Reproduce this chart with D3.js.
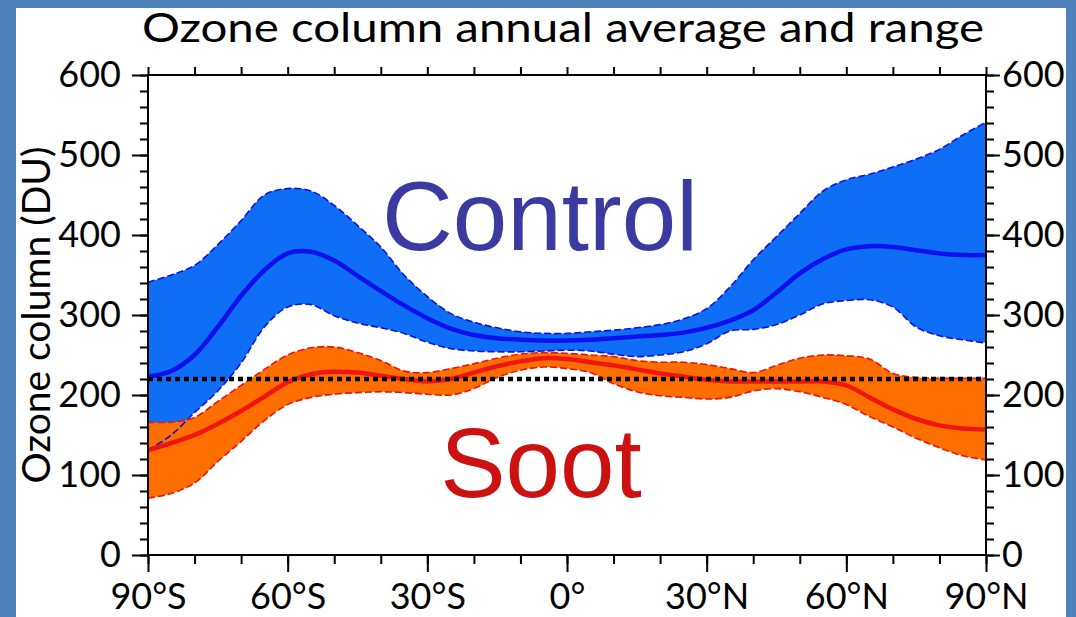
<!DOCTYPE html>
<html>
<head>
<meta charset="utf-8">
<script src="https://cdn.jsdelivr.net/npm/d3@7"></script>
<style>
  body { margin: 0; background: #4f81bd; }
  text { font-family: Lato, "Open Sans", sans-serif; }
</style>
</head>
<body>
<div id="chart"></div>
<script>
// latitude grid (deg, south negative)
const lats = [-90,-85,-80,-75,-70,-65,-60,-55,-50,-45,-40,-35,-30,-25,-20,-15,-10,-5,0,
              5,10,15,20,25,30,35,40,45,50,55,60,65,70,75,80,85,90];

// control run: annual mean, max and min (DU)
const ctlMean = [223,230,250,285,324,356,377,379,368,349,330,312,296,283,275,271,269,268,268,
                 269,271,273,275,278,284,293,306,328,352,370,382,386,385,381,377,375,375];
const ctlMax  = [341,350,362,388,418,450,458,455,437,412,385,350,323,302,291,284,279,277,277,
                 279,281,284,288,295,308,335,369,398,427,455,469,476,485,495,507,525,541];
const ctlMin  = [131,150,178,205,240,285,310,313,299,290,284,277,266,258,255,254,254,255,256,
                 255,251,248,250,254,264,280,282,288,300,314,318,319,310,285,274,269,265];

// soot run
const sootMean = [131,140,150,164,180,198,216,226,229,228,224,220,217,220,228,236,242,246,245,
                  241,237,232,227,223,219,217,217,217,217,217,212,197,182,170,162,158,157];
const sootMax  = [166,166,172,192,212,232,250,259,260,253,243,230,228,233,239,246,251,253,252,
                  250,248,243,241,241,238,233,228,237,246,250,249,245,227,222,221,221,221];
const sootMin  = [71,77,90,117,142,168,188,197,201,203,204,203,201,200,208,222,231,235,233,
                  228,214,204,199,197,195,197,205,208,204,197,188,173,160,146,134,124,119];

const refLevel = 220;

const yTicks = [0,100,200,300,400,500,600];
const yMinor = [0,20,40,60,80,100,120,140,160,180,200,220,240,260,280,300,320,340,360,380,400,420,440,460,480,500,520,540,560,580,600];
const xTicks = [-90,-60,-30,0,30,60,90];
const xTickLabels = ["90°S","60°S","30°S","0°","30°N","60°N","90°N"];
const xMinor = [-90,-80,-70,-60,-50,-40,-30,-20,-10,0,10,20,30,40,50,60,70,80,90];

const width = 1076, height = 617;
const plot = { left: 148, right: 986, top: 75, bottom: 555 };

const svg = d3.select("#chart").append("svg")
  .attr("width", width).attr("height", height);

svg.append("rect").attr("width", width).attr("height", height).attr("fill", "#4f81bd");
svg.append("rect").attr("x", 16).attr("y", 8).attr("width", 1050).attr("height", height - 8).attr("fill", "#fff");

const x = d3.scaleLinear().domain([-90, 90]).range([plot.left, plot.right]);
const y = d3.scaleLinear().domain([0, 600]).range([plot.bottom, plot.top]);

const ctl = lats.map((d, i) => ({ lat: d, mean: ctlMean[i], max: ctlMax[i], min: ctlMin[i] }));
const soot = lats.map((d, i) => ({ lat: d, mean: sootMean[i], max: sootMax[i], min: sootMin[i] }));

const curve = d3.curveCatmullRom.alpha(0.5);
const area = d3.area().x(d => x(d.lat)).y0(d => y(d.min)).y1(d => y(d.max)).curve(curve);
const lineOf = key => d3.line().x(d => x(d.lat)).y(d => y(d[key])).curve(curve);

const g = svg.append("g");

// range fills
g.append("path").datum(ctl).attr("d", area).attr("fill", "#0e6ef5");
g.append("path").datum(soot).attr("d", area).attr("fill", "#ff6f00");

// dashed range edges + means
["max", "min"].forEach(k => {
  g.append("path").datum(ctl).attr("d", lineOf(k))
    .attr("fill", "none").attr("stroke", "#1010e0").attr("stroke-width", 1.6).attr("stroke-dasharray", "7,3");
});
g.append("path").datum(ctl).attr("d", lineOf("mean"))
  .attr("fill", "none").attr("stroke", "#1010ee").attr("stroke-width", 4.5);

["max", "min"].forEach(k => {
  g.append("path").datum(soot).attr("d", lineOf(k))
    .attr("fill", "none").attr("stroke", "#ee1111").attr("stroke-width", 1.6).attr("stroke-dasharray", "7,3");
});
g.append("path").datum(soot).attr("d", lineOf("mean"))
  .attr("fill", "none").attr("stroke", "#f01414").attr("stroke-width", 4.5);

// dotted reference
g.append("line")
  .attr("x1", x(-90)).attr("x2", x(90)).attr("y1", y(refLevel)).attr("y2", y(refLevel))
  .attr("stroke", "#000").attr("stroke-width", 4.5).attr("stroke-dasharray", "5,4");

// frame
svg.append("rect")
  .attr("x", plot.left).attr("y", plot.top)
  .attr("width", plot.right - plot.left).attr("height", plot.bottom - plot.top)
  .attr("fill", "none").attr("stroke", "#000").attr("stroke-width", 2);

// axes
function styleAxis(sel) {
  sel.select(".domain").remove();
  sel.selectAll("line").attr("stroke", "#000").attr("stroke-width", 2);
  sel.selectAll("text").attr("fill", "#000").style("font-size", "36px");
}

svg.append("g").attr("transform", `translate(${plot.left},0)`)
  .call(d3.axisLeft(y).tickValues(yMinor).tickSize(8).tickFormat(""))
  .call(styleAxis);
svg.append("g").attr("transform", `translate(${plot.left},0)`)
  .call(d3.axisLeft(y).tickValues(yTicks).tickSize(16).tickPadding(11).tickFormat(d3.format("d")))
  .call(styleAxis);

svg.append("g").attr("transform", `translate(${plot.right},0)`)
  .call(d3.axisRight(y).tickValues(yMinor).tickSize(8).tickFormat(""))
  .call(styleAxis);
svg.append("g").attr("transform", `translate(${plot.right},0)`)
  .call(d3.axisRight(y).tickValues(yTicks).tickSize(14).tickPadding(2).tickFormat(d3.format("d")))
  .call(styleAxis);

svg.append("g").attr("transform", `translate(0,${plot.bottom})`)
  .call(d3.axisBottom(x).tickValues(xMinor).tickSize(9).tickFormat(""))
  .call(styleAxis);
svg.append("g").attr("transform", `translate(0,${plot.bottom})`)
  .call(d3.axisBottom(x).tickValues(xTicks).tickSize(17).tickPadding(11).tickFormat((d, i) => xTickLabels[i]))
  .call(styleAxis);

svg.append("g").attr("transform", `translate(0,${plot.top})`)
  .call(d3.axisTop(x).tickValues(xMinor).tickSize(8).tickFormat(""))
  .call(styleAxis);

// titles
svg.append("text")
  .attr("x", 563).attr("y", 42)
  .attr("text-anchor", "middle")
  .attr("textLength", 842)
  .attr("lengthAdjust", "spacingAndGlyphs")
  .style("font-size", "41px")
  .text("Ozone column annual average and range");

svg.append("text")
  .attr("transform", "translate(50,315) rotate(-90)")
  .attr("text-anchor", "middle")
  .style("font-size", "39px")
  .text("Ozone column (DU)");

// in-plot labels
svg.append("text")
  .attr("x", 540).attr("y", 250)
  .attr("text-anchor", "middle")
  .attr("fill", "#3a3aa0")
  .style("font-family", "'Liberation Sans', Arial, sans-serif")
  .style("font-size", "98px")
  .text("Control");

svg.append("text")
  .attr("x", 541).attr("y", 497)
  .attr("text-anchor", "middle")
  .attr("fill", "#cc1111")
  .style("font-family", "'Liberation Sans', Arial, sans-serif")
  .style("font-size", "98px")
  .text("Soot");
</script>
</body>
</html>
